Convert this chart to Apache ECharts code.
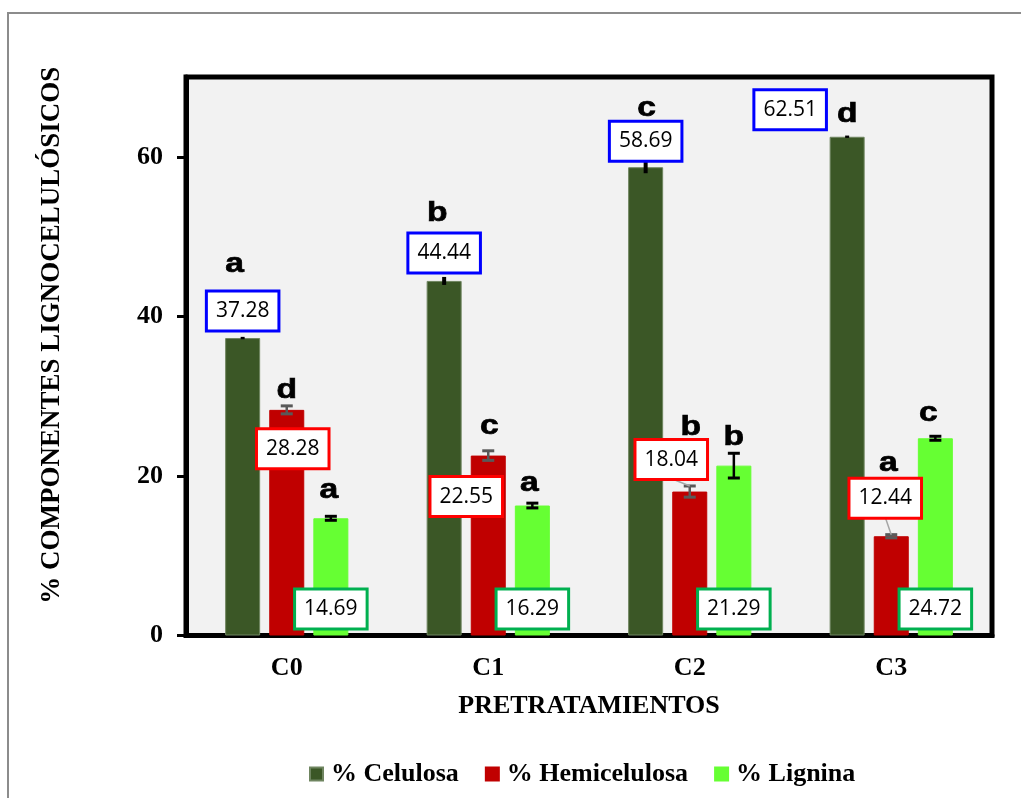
<!DOCTYPE html>
<html>
<head>
<meta charset="utf-8">
<script src="https://cdn.jsdelivr.net/npm/echarts@6/dist/echarts.min.js"></script>
<style>
  html, body { margin: 0; padding: 0; background: #fff; }
  #chart { width: 1021px; height: 798px; }
</style>
</head>
<body>
<div id="chart"></div>
<script>
// Composición lignocelulósica por pretratamiento (media ± error)
const categories = ['C0', 'C1', 'C2', 'C3'];
const celulosa = [37.28, 44.44, 58.69, 62.51];
const hemicelulosa = [28.28, 22.55, 18.04, 12.44];
const lignina = [14.69, 16.29, 21.29, 24.72];
const celulosaErr = [0.15, 0.5, 0.75, 0.15];
const hemicelulosaErr = [0.5, 0.6, 0.7, 0.2];
const ligninaErr = [0.25, 0.3, 1.55, 0.25];
const celulosaLetters = ['a', 'b', 'c', 'd'];
const hemicelulosaLetters = ['d', 'c', 'b', 'a'];
const ligninaLetters = ['a', 'a', 'b', 'c'];
const yTickValues = [0, 20, 40, 60];

const BAR_W = 35;
const BAR_GAP = 0.26;
const SERIF = "'Liberation Serif', 'Times New Roman', serif";
const LETTER_FS = 28;

// Placement of the value boxes and significance letters, in pixels,
// measured from each bar's top (or from the axis baseline for 'base').
const layouts = {
  cel: {
    boxAnchor: 'top', boxDx: [0, 0, 0, -57], boxDy: [-27, -28, -26, -27],
    leader: [false, false, false, false],
    letterDx: [-8, -7, 1, 0], letterBase: [-65, -59, -50, -14]
  },
  hemi: {
    boxAnchor: 'top', boxDx: [6, -22, -18.5, -6], boxDy: [39, 41, -32, -38],
    leader: [false, false, true, true],
    letterDx: [0, 1, 1, -3], letterBase: [-11, -20.5, -55.5, -64.7]
  },
  lig: {
    boxAnchor: 'base', boxDx: [0, 0, 0, 0], boxDy: [-26.5, -26.5, -26.5, -26.5],
    leader: [false, false, false, false],
    letterDx: [-2, -3, 0, -7], letterBase: [-19, -14, -20, -16.5]
  }
};

function annotate(slot, letters, lay, look) {
  return function (params, api) {
    const i = params.dataIndex;
    const val = api.value(1);
    const err = api.value(2);
    const p = api.coord([api.value(0), val]);
    const base = api.coord([api.value(0), 0]);
    const x = p[0] + slot * BAR_W * (1 + BAR_GAP);
    const top = p[1];
    const e = api.size([0, err])[1];
    const kids = [];

    // error bar
    kids.push({
      type: 'line',
      shape: { x1: x, y1: top - e, x2: x, y2: top + e },
      style: { stroke: look.errColor, lineWidth: look.stem }
    });
    if (look.capW) {
      [top - e, top + e].forEach(function (yy) {
        kids.push({
          type: 'line',
          shape: { x1: x - look.capW / 2, y1: yy, x2: x + look.capW / 2, y2: yy },
          style: { stroke: look.errColor, lineWidth: look.capLW }
        });
      });
    }

    // value box
    const bx = x + lay.boxDx[i];
    const by = (lay.boxAnchor === 'base' ? base[1] : top) + lay.boxDy[i];
    if (lay.leader[i]) {
      kids.push({
        type: 'line',
        shape: { x1: bx, y1: by + 19, x2: x, y2: top - e },
        style: { stroke: '#a6a6a6', lineWidth: 1.5 }
      });
    }
    kids.push({
      type: 'text',
      x: bx, y: by,
      style: {
        text: val.toFixed(2),
        fill: '#000',
        fontFamily: "'Open Sans', 'Noto Sans', sans-serif",
        fontSize: 21,
        lineHeight: 21,
        align: 'center',
        verticalAlign: 'middle',
        backgroundColor: '#fff',
        borderColor: look.boxColor,
        borderWidth: 3,
        padding: [8, 8]
      }
    });

    // significance letter
    kids.push({
      type: 'text',
      x: x + lay.letterDx[i],
      y: top + lay.letterBase[i] - 0.31 * LETTER_FS,
      scaleX: 1.2,
      style: {
        text: letters[i],
        fill: '#000',
        stroke: '#000',
        lineWidth: 0.7,
        fontFamily: "'Liberation Sans', Arial, sans-serif",
        fontWeight: 'bold',
        fontSize: LETTER_FS,
        align: 'center',
        verticalAlign: 'middle'
      }
    });

    return { type: 'group', children: kids };
  };
}

function rows(values, errs) {
  return values.map(function (v, i) { return [i, v, errs[i]]; });
}

function barSeries(name, values, color, edge) {
  return {
    name: name,
    type: 'bar',
    data: values,
    barWidth: BAR_W,
    barGap: (BAR_GAP * 100) + '%',
    itemStyle: { color: color, borderColor: edge, borderWidth: 1 },
    z: 2
  };
}

function noteSeries(slot, values, errs, letters, lay, look) {
  return {
    type: 'custom',
    data: rows(values, errs),
    encode: { x: 0, y: 1 },
    renderItem: annotate(slot, letters, lay, look),
    silent: true,
    clip: false,
    z: 5
  };
}

const chart = echarts.init(document.getElementById('chart'));

chart.setOption({
  backgroundColor: '#fff',
  animation: false,
  graphic: [{
    type: 'rect',
    shape: { x: 8, y: 13, width: 1100, height: 900 },
    style: { fill: 'none', stroke: '#8c8c8c', lineWidth: 2 },
    silent: true
  }],
  grid: {
    left: 186, top: 77, right: 29, bottom: 162.5,
    show: true,
    backgroundColor: '#f2f2f2',
    borderColor: '#000',
    borderWidth: 5
  },
  legend: {
    data: ['% Celulosa', '% Hemicelulosa', '% Lignina'],
    left: 304, top: 756,
    icon: 'rect',
    itemWidth: 13, itemHeight: 13,
    itemGap: 26,
    textStyle: {
      fontFamily: SERIF, fontWeight: 'bold', fontSize: 26, color: '#000',
      padding: [0, 0, 0, 3]
    }
  },
  xAxis: {
    type: 'category',
    data: categories,
    name: 'PRETRATAMIENTOS',
    nameLocation: 'middle',
    nameGap: 58,
    nameTextStyle: { fontFamily: SERIF, fontWeight: 'bold', fontSize: 26, color: '#000' },
    axisLine: { lineStyle: { color: '#000', width: 5 } },
    axisTick: { length: 8, lineStyle: { color: '#000', width: 3 } },
    axisLabel: { margin: 20, fontFamily: SERIF, fontWeight: 'bold', fontSize: 26, color: '#000' },
    splitLine: { show: false }
  },
  yAxis: {
    type: 'value',
    min: 0, max: 70, interval: 10,
    name: '% COMPONENTES LIGNOCELULÓSICOS',
    nameLocation: 'middle',
    nameRotate: 90,
    nameGap: 120,
    nameTextStyle: {
      fontFamily: SERIF, fontWeight: 'bold', fontSize: 27, color: '#000',
      padding: [0, 0, 0, 42]
    },
    axisLine: { show: true, lineStyle: { color: '#000', width: 5 } },
    axisTick: { show: true, customValues: yTickValues, length: 9, lineStyle: { color: '#000', width: 3 } },
    axisLabel: { customValues: yTickValues, margin: 23, fontFamily: SERIF, fontWeight: 'bold', fontSize: 26, color: '#000' },
    splitLine: { show: false }
  },
  series: [
    barSeries('% Celulosa', celulosa, '#3b5726', '#6f8560'),
    barSeries('% Hemicelulosa', hemicelulosa, '#c00000', '#c00000'),
    barSeries('% Lignina', lignina, '#66ff33', '#66ff33'),
    noteSeries(-1, celulosa, celulosaErr, celulosaLetters, layouts.cel,
      { errColor: '#000', stem: 4, capW: 0, capLW: 0, boxColor: '#0000ff' }),
    noteSeries(0, hemicelulosa, hemicelulosaErr, hemicelulosaLetters, layouts.hemi,
      { errColor: '#595959', stem: 2.5, capW: 12, capLW: 3, boxColor: '#ff0000' }),
    noteSeries(1, lignina, ligninaErr, ligninaLetters, layouts.lig,
      { errColor: '#000', stem: 2.5, capW: 12, capLW: 3, boxColor: '#00b050' })
  ]
});
</script>
</body>
</html>
